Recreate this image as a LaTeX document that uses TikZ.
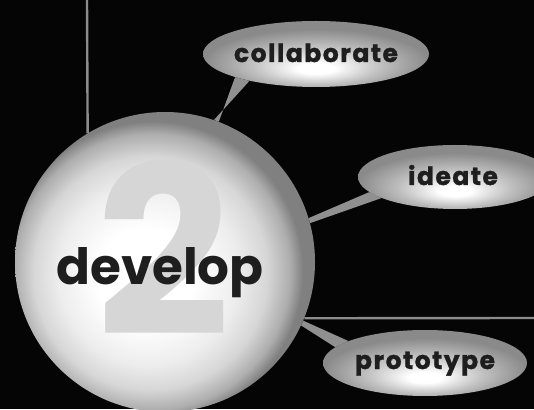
\documentclass[tikz,border=0pt]{standalone}
\usepackage{fontspec}
\setmainfont{Poppins}
\newfontfamily\labfont[LetterSpace=6,BoldFeatures={FakeBold=1.2}]{Poppins}
\usetikzlibrary{shapes.geometric}
\definecolor{bgblack}{HTML}{050505}
\definecolor{linegray}{HTML}{8C8C8C}
\definecolor{tailgray}{HTML}{909090}
\definecolor{ink}{HTML}{1E1E1E}
\definecolor{twogray}{HTML}{D6D6D6}
\pgfdeclareradialshading{spheresh}{\pgfpoint{-4bp}{-3bp}}{color(0bp)=(white); color(8bp)=(white); color(15bp)=(white!93!black); color(19.5bp)=(white!84!black); color(23bp)=(white!68!black); color(25bp)=(white!50!black); color(50bp)=(white!50!black)}
\pgfdeclareradialshading{bubblesh}{\pgfpoint{0bp}{-12bp}}{color(0bp)=(white); color(4bp)=(white); color(14bp)=(white!76!black); color(25bp)=(white!54!black); color(50bp)=(white!54!black)}
\pgfdeclarelayer{back}
\pgfdeclarelayer{mid}
\pgfsetlayers{back,mid,main}
\tikzset{
  bubble/.style={ellipse, inner sep=0pt, shade, shading=bubblesh, text=ink,
    font=\labfont\bfseries\fontsize{25}{25}\selectfont},
  labeltext/.style={text=ink, inner sep=0pt, font=\labfont\bfseries\fontsize{25}{25}\selectfont},
  conn/.style={draw=linegray, line width=2.4pt},
  tail/.style={fill=tailgray},
}
\begin{document}
\begin{tikzpicture}[x=1pt,y=1pt]
\useasboundingbox (0,0) rectangle (534,409);
\clip (0,0) rectangle (534,409);
\begin{pgfonlayer}{back}
\fill[bgblack] (0,0) rectangle (534,409);
\end{pgfonlayer}
% sphere
\node[circle, minimum size=300pt, inner sep=0pt, shade, shading=spheresh] (dev) at (165,147) {};
\node[anchor=base, text=twogray, font=\bfseries\fontsize{235}{235}\selectfont] (two) at (164,74) {2};
\node[anchor=base, text=ink, font=\bfseries\fontsize{50}{50}\selectfont] (devtext) at (160,124) {develop};
% bubbles
\node[bubble, minimum width=226pt, minimum height=66pt] (collab) at (316,355) {};
\node[labeltext, anchor=base] (collabtext) at (316,347) {collaborate};
\node[bubble, minimum width=194pt, minimum height=64pt] (ideate) at (455,232) {};
\node[labeltext, anchor=base] (ideatext) at (453,224) {ideate};
\node[bubble, minimum width=204pt, minimum height=66pt] (proto) at (425,46) {};
\node[labeltext, anchor=base] (prototext) at (425,40) {prototype};
% connectors
\coordinate (vtop) at (87,409);
\coordinate (hright) at (534,91);
\begin{pgfonlayer}{mid}
\draw[conn] (vtop) -- (dev.121.4);
\draw[conn] (dev.-22) -- (hright);
\fill[tail] (collab.196) -- (collab.202) -- (dev.71) -- (dev.69) -- cycle;
\fill[tail] (ideate.190) -- (ideate.196) -- (dev.15) -- (dev.17) -- cycle;
\fill[tail] (proto.164) -- (proto.170) -- (dev.-25) -- (dev.-23) -- cycle;
\end{pgfonlayer}
\end{tikzpicture}
\end{document}
